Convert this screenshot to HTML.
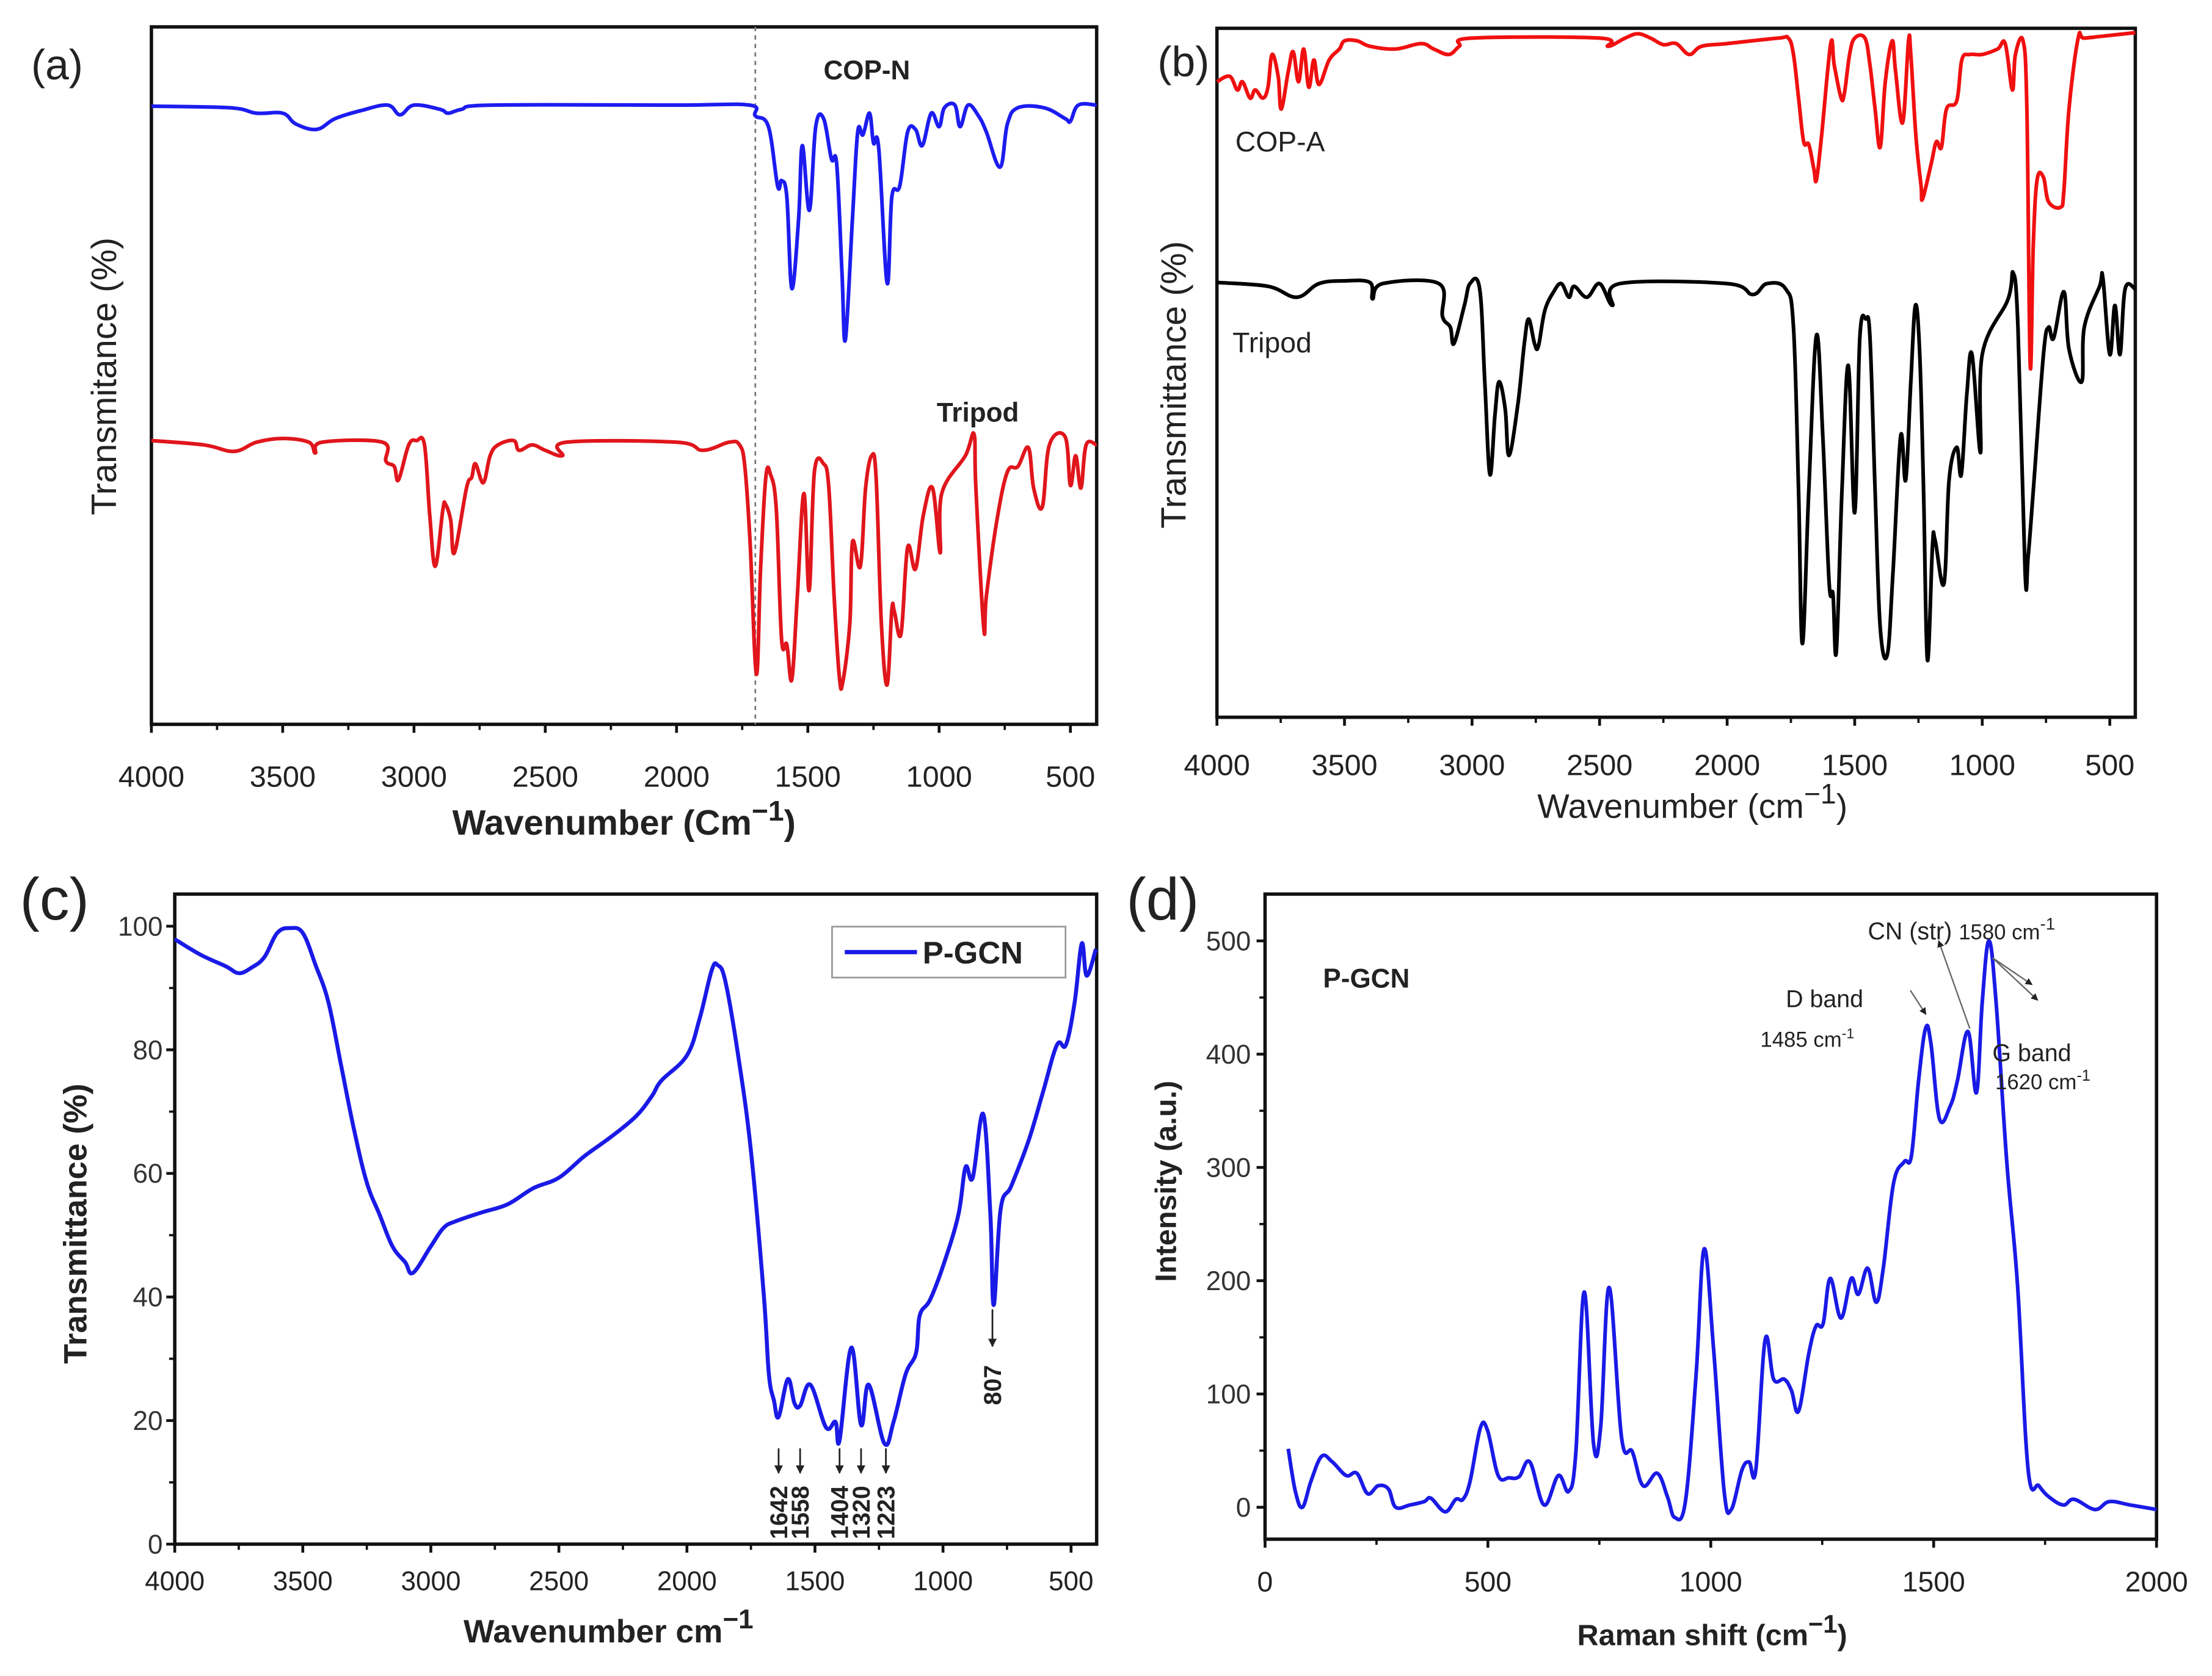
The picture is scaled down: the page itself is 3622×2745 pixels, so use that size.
<!DOCTYPE html>
<html><head><meta charset="utf-8"><style>
html,body{margin:0;padding:0;background:#fff;}
svg{display:block;font-family:"Liberation Sans",Arial,sans-serif;}
</style></head><body>
<svg id="fig" width="3622" height="2745" viewBox="0 0 1563.2 1184.7" preserveAspectRatio="none" xmlns="http://www.w3.org/2000/svg">
<defs><marker id="ah" viewBox="0 0 10 10" refX="9" refY="5" markerWidth="5" markerHeight="5" orient="auto"><path d="M0,0 L10,5 L0,10 z" fill="#222"/></marker></defs>
</svg>
<script>
// ---------- data ----------
const irTicks = [4000,3500,3000,2500,2000,1500,1000,500];
const copN = [[4000,114.6],[3700,114.3],[3600,113.3],[3500,113.3],[3450,111.3],[3370,110.3],[3300,112.3],[3200,113.8],[3100,114.8],[3053,113.0],[3000,114.8],[2900,114.0],[2870,113.3],[2820,114.0],[2700,114.8],[2000,114.8],[1722,114.8],[1700,112.8],[1650,110.8],[1615,99.8],[1600,100.8],[1580,97.8],[1561,80.8],[1535,93.8],[1521,107.3],[1494,95.3],[1470,110.8],[1440,112.3],[1410,104.8],[1390,103.8],[1370,83.8],[1357,71.3],[1330,93.8],[1310,109.8],[1290,109.3],[1265,113.3],[1250,107.8],[1230,106.8],[1198,81.8],[1180,97.8],[1150,99.8],[1120,109.8],[1090,110.3],[1064,107.3],[1030,113.3],[1000,110.8],[980,114.3],[940,114.8],[920,110.8],[890,114.8],[850,112.8],[820,109.8],[768,103.3],[740,111.3],[700,114.3],[600,114.3],[520,112.3],[500,111.8],[470,114.8],[400,114.8]];
const tripodA = [[4000,52.6],[3800,51.8],[3685,50.6],[3600,52.3],[3500,53.0],[3400,52.3],[3376,50.3],[3350,52.3],[3120,52.3],[3107,48.8],[3075,47.8],[3059,45.3],[3020,51.8],[2990,52.6],[2960,51.8],[2940,38.8],[2919,29.3],[2890,39.8],[2880,40.8],[2860,37.8],[2846,31.8],[2800,43.8],[2780,45.8],[2766,48.3],[2736,44.8],[2710,49.8],[2680,51.8],[2620,52.6],[2600,50.8],[2550,51.8],[2500,50.8],[2435,49.8],[2420,52.3],[2000,52.3],[1900,50.8],[1800,52.3],[1760,51.8],[1740,47.8],[1720,33.8],[1696,9.3],[1680,28.8],[1660,45.8],[1642,46.3],[1620,39.8],[1600,15.8],[1580,14.8],[1561,8.3],[1540,23.8],[1515,42.8],[1495,24.8],[1475,46.8],[1440,48.3],[1420,43.8],[1400,23.8],[1380,8.8],[1367,7.8],[1340,18.8],[1330,33.8],[1300,29.3],[1280,43.8],[1257,49.8],[1240,45.8],[1220,18.8],[1198,7.3],[1180,21.3],[1170,20.8],[1145,16.8],[1120,32.8],[1090,28.8],[1060,38.8],[1025,43.8],[996,31.8],[990,42.8],[900,49.8],[867,53.8],[860,43.8],[830,17.8],[820,23.8],[780,37.8],[740,46.8],[700,47.8],[660,51.3],[640,43.8],[607,40.3],[580,51.8],[520,53.3],[500,44.3],[480,49.8],[460,43.8],[440,51.8],[400,51.8]];
const copA = [[4000,116.5],[3950,117.5],[3920,115],[3900,116.5],[3870,113.5],[3850,115],[3820,113.5],[3800,115.5],[3784,121.5],[3760,117.5],[3748,111.5],[3720,118.5],[3701,122],[3680,116.5],[3660,122.5],[3640,115.5],[3620,120.5],[3600,116],[3560,120.5],[3520,122.5],[3500,124],[3450,124],[3400,123],[3300,122.5],[3200,123.5],[3150,122.5],[3091,121.5],[3050,123],[3000,124.5],[2500,124.5],[2467,123],[2400,124.5],[2350,125.3],[2300,124.5],[2250,123.3],[2200,123.5],[2149,121.5],[2100,123],[2000,123.5],[1800,124.5],[1760,124.5],[1740,121.5],[1720,113.5],[1700,105.5],[1680,105],[1660,100.5],[1650,98.5],[1630,106.5],[1594,123.5],[1580,119.5],[1553,113.5],[1540,114.5],[1520,121.5],[1500,124.5],[1460,124.5],[1440,119.5],[1420,111.5],[1400,104.5],[1380,116.5],[1353,124],[1340,118.5],[1312,109],[1289,124],[1280,121.5],[1260,106.5],[1240,97.5],[1234,95],[1200,101.5],[1180,105.5],[1160,104.5],[1140,111.5],[1100,113],[1080,120.5],[1050,121.5],[1000,121.5],[940,122.5],[910,123.5],[882,115],[870,121.5],[840,124],[825,111.5],[812,64.5],[800,86.5],[785,98.5],[760,99],[740,94.5],[693,93.5],[680,96.5],[660,111.5],[624,124.5],[600,124.5],[500,125],[400,125.5]];
const tripodB = [[4000,79.7],[3800,79],[3687,77],[3600,79.5],[3500,80],[3400,79.7],[3390,76.7],[3350,79.5],[3130,79.5],[3116,73.5],[3085,71.5],[3071,68.5],[3030,75.5],[3008,79.5],[2970,78.5],[2950,61.5],[2930,44.5],[2910,55.5],[2894,61.5],[2870,56.5],[2855,48],[2820,57.5],[2795,68.5],[2778,73],[2755,68.5],[2740,68],[2715,74.5],[2680,78],[2650,79.5],[2620,77],[2600,79],[2550,77],[2500,79.5],[2450,75.5],[2420,79.5],[2000,79.5],[1900,77.5],[1844,79.5],[1770,78.5],[1740,71.5],[1720,41.5],[1705,13.5],[1680,41.5],[1650,70],[1625,51.5],[1600,24.5],[1585,22.5],[1572,12],[1550,41.5],[1525,64.5],[1500,37.5],[1480,69.5],[1456,73],[1440,69.5],[1420,41.5],[1400,16.5],[1372,11.5],[1350,26.5],[1320,51.5],[1300,43.5],[1280,61.5],[1262,75.5],[1245,66.5],[1230,41.5],[1215,10.5],[1195,31.5],[1185,32.5],[1150,24.5],[1130,43.5],[1100,49.5],[1082,44.5],[1060,59.5],[1040,66.5],[1007,48.5],[1000,66.5],[900,76.5],[879,81.5],[860,71.5],[832,26.5],[820,29.5],[800,41.5],[760,66.5],[740,71.5],[720,69.5],[680,78],[660,67.5],[610,61.5],[600,71.5],[540,79],[527,80.5],[500,66.5],[480,75.5],[460,66.5],[440,78.5],[400,78.5]];
const pgcnTicksY = [0,20,40,60,80,100];
const pgcn = [[4000,97.9],[3900,95.4],[3800,93.5],[3750,92.4],[3700,93.3],[3650,95.0],[3600,98.9],[3550,99.7],[3500,98.9],[3450,93.7],[3400,87.7],[3350,77.4],[3300,67.1],[3250,58.5],[3200,53.3],[3150,48.2],[3100,45.6],[3070,43.9],[3000,48.2],[2950,51.2],[2900,52.3],[2800,53.7],[2700,55.0],[2600,57.6],[2500,59.3],[2400,62.8],[2300,65.8],[2200,69.2],[2137,72.5],[2100,75],[2000,79.1],[1950,85.1],[1903,92.9],[1880,93.7],[1850,91.1],[1800,79.1],[1750,63.6],[1700,40.4],[1680,27.5],[1660,23.2],[1642,20.6],[1606,26.7],[1580,22.8],[1558,22.4],[1518,25.8],[1457,18.9],[1420,19.8],[1404,16.8],[1358,31.8],[1320,19.3],[1290,25.8],[1229,16.3],[1193,19.8],[1146,27.5],[1105,31],[1091,37],[1050,39.6],[995,45.6],[940,53.3],[912,61.0],[884,59.3],[843,69.6],[815,53.3],[802,38.7],[775,54.2],[733,58.0],[665,65.4],[610,73.1],[555,80.8],[520,80.8],[486,87.7],[458,97.2],[439,92],[403,96.3]];
const pgcnPeaks = [1642,1558,1404,1320,1223];
const ramanTicksX = [0,500,1000,1500,2000];
const ramanTicksY = [0,100,200,300,400,500];
const raman = [[52,51.6],[68,14],[84,0],[103,23],[127,45],[151,40],[182,28],[206,30],[230,12],[254,19],[277,16],[293,0],[325,2],[357,5],[372,8],[404,-4],[428,7],[444,7],[460,23],[483,70],[499,68],[523,28],[547,26],[570,27],[594,40],[626,2],[658,28],[681,14],[697,47],[716,190],[737,56],[753,71],[772,194],[800,61],[824,49],[848,19],[880,30],[903,9],[919,-9],[943,5],[967,117],[985,228],[1006,141],[1030,14],[1046,-2],[1070,33],[1086,40],[1101,33],[1122,148],[1141,113],[1165,113],[1181,103],[1197,85],[1220,136],[1236,160],[1252,162],[1268,202],[1292,167],[1315,202],[1331,188],[1352,211],[1371,181],[1387,211],[1410,286],[1434,305],[1450,310],[1466,376],[1482,423],[1494,409],[1513,343],[1537,354],[1553,376],[1577,420],[1596,366],[1609,446],[1624,500],[1640,446],[1664,305],[1688,197],[1712,33],[1736,19],[1759,9],[1791,2],[1815,7],[1862,-2],[1894,5],[1941,2],[2000,-2]];

// ---------- helpers ----------
const NS = "http://www.w3.org/2000/svg";
const svg = document.getElementById('fig');
function mk(tag, attrs, parent, txt){
  const e = document.createElementNS(NS, tag);
  for (const k in attrs) e.setAttribute(k, attrs[k]);
  if (txt !== undefined) e.textContent = txt;
  (parent || svg).appendChild(e);
  return e;
}
function lin(d0,d1,r0,r1){ return v => r0 + (v-d0)*(r1-r0)/(d1-d0); }
function linePath(data, sx, sy){
  const P = data.map(p=>[sx(p[0]), sy(p[1])]);
  let d = 'M'+P[0][0].toFixed(2)+','+P[0][1].toFixed(2);
  const t = 0.18;
  for (let i=0;i<P.length-1;i++){
    const p0=P[Math.max(0,i-1)], p1=P[i], p2=P[i+1], p3=P[Math.min(P.length-1,i+2)];
    const c1x=p1[0]+(p2[0]-p0[0])*t, c1y=p1[1]+(p2[1]-p0[1])*t;
    const c2x=p2[0]-(p3[0]-p1[0])*t, c2y=p2[1]-(p3[1]-p1[1])*t;
    d += 'C'+c1x.toFixed(2)+','+c1y.toFixed(2)+' '+c2x.toFixed(2)+','+c2y.toFixed(2)+' '+p2[0].toFixed(2)+','+p2[1].toFixed(2);
  }
  return d;
}
function frame(g, x0,y0,x1,y1){
  const r = mk('rect',{x:x0,y:y0,width:x1-x0,height:y1-y0,fill:'none',stroke:'#111','stroke-width':2.4},g);
  
  
}
function xTicks(g, ticks, sx, yb, fs, ty, minor, weight){
  ticks.forEach(t=>{
    const l = mk('line',{x1:sx(t),x2:sx(t),y1:yb,y2:yb+6,stroke:'#111','stroke-width':2},g);
    
    
    const tx = mk('text',{x:sx(t),y:ty,'font-size':fs,'text-anchor':'middle',fill:'#222','font-weight':weight||'normal'},g,String(t));
    
    
  });
  (minor||[]).forEach(t=>{
    const l = mk('line',{x1:sx(t),x2:sx(t),y1:yb,y2:yb+4,stroke:'#111','stroke-width':1.6},g);
    
    
  });
}
function yTicks(g, ticks, sy, xl, fs, tx, minor){
  ticks.forEach(t=>{
    const l = mk('line',{x1:xl-6,x2:xl,y1:sy(t),y2:sy(t),stroke:'#111','stroke-width':2},g);
    
    
    const e = mk('text',{x:tx,y:sy(t)+fs*0.35,'font-size':fs,'text-anchor':'end',fill:'#333'},g,String(t));
    
    
  });
  (minor||[]).forEach(t=>{
    const l = mk('line',{x1:xl-4,x2:xl,y1:sy(t),y2:sy(t),stroke:'#111','stroke-width':1.6},g);
    
    
  });
}
function text(g,name,x,y,s,attrs){
  const a = Object.assign({x:x,y:y,fill:'#222'},attrs);
  const e = mk('text',a,g,s);
  
  
  return e;
}
function series(g,name,data,sx,sy,color,w){
  const p = mk('path',{d:linePath(data,sx,sy),fill:'none',stroke:color,'stroke-width':w||2.6,'stroke-linejoin':'round'},g);
  
  
}
const irMinor = [3750,3250,2750,2250,1750,1250,750];

// ---------- panel a ----------
(function(){
  const g = mk('g',{});
  
  
  const x0=107,x1=775,y0=19,y1=512;
  const sx = lin(4000,400,x0,x1), sy = lin(0,129.3,y1,y0);
  frame(g,x0,y0,x1,y1);
  const dl = mk('line',{x1:sx(1700),x2:sx(1700),y1:y0,y2:y1,stroke:'#777','stroke-width':1.2,'stroke-dasharray':'3,3'},g);
  
  
  series(g,'cop-n-line',copN,sx,sy,'#1c1cf0');
  series(g,'tripod-line-a',tripodA,sx,sy,'#e0161c');
  xTicks(g,irTicks,sx,y1,21,556,irMinor);
  text(g,'panel-label-a',22,56,'(a)',{'font-size':30});
  text(g,'cop-n-label',582,56,'COP-N',{'font-size':19,'font-weight':'bold'});
  text(g,'tripod-label-a',662,298,'Tripod',{'font-size':19,'font-weight':'bold'});
  const xt = text(g,'x-axis-title-a',441,590,'',{'font-size':25,'font-weight':'bold','text-anchor':'middle'});
  xt.innerHTML = 'Wavenumber (Cm<tspan dy="-10" font-size="20">−1</tspan><tspan dy="10">)</tspan>';
  text(g,'y-axis-title-a',0,0,'Transmitance (%)',{'font-size':25,'text-anchor':'middle',transform:'translate(82,266) rotate(-90)'});
})();

// ---------- panel b ----------
(function(){
  const g = mk('g',{});
  
  
  const x0=860,x1=1509,y0=20,y1=507;
  const sx = lin(4000,400,x0,x1), sy = lin(0,126.3,y1,y0);
  frame(g,x0,y0,x1,y1);
  series(g,'cop-a-line',copA,sx,sy,'#f01010');
  series(g,'tripod-line-b',tripodB,sx,sy,'#000');
  xTicks(g,irTicks,sx,y1,21,548,irMinor);
  text(g,'panel-label-b',818,54,'(b)',{'font-size':30});
  text(g,'cop-a-label',873,107,'COP-A',{'font-size':20});
  text(g,'tripod-label-b',871,249,'Tripod',{'font-size':20});
  const xt = text(g,'x-axis-title-b',1196,578,'',{'font-size':24,'text-anchor':'middle'});
  xt.innerHTML = 'Wavenumber (cm<tspan dy="-10" font-size="20">−1</tspan><tspan dy="10">)</tspan>';
  text(g,'y-axis-title-b',0,0,'Transmittance (%)',{'font-size':25,'text-anchor':'middle',transform:'translate(838,272) rotate(-90)'});
})();

// ---------- panel c ----------
(function(){
  const g = mk('g',{});
  
  
  const x0=123.5,x1=775,y0=632,y1=1091.5;
  const sx = lin(4000,400,x0,x1), sy = lin(0,105.2,y1,y0);
  frame(g,x0,y0,x1,y1);
  series(g,'p-gcn-ir-line',pgcn,sx,sy,'#1a1ae6',2.8);
  xTicks(g,irTicks,sx,y1,19,1124,irMinor);
  yTicks(g,pgcnTicksY,sy,x0,19,115,[10,30,50,70,90]);
  pgcnPeaks.forEach(wn=>{
    const a = mk('line',{x1:sx(wn),x2:sx(wn),y1:sy(15.5),y2:sy(11.5),stroke:'#222','stroke-width':1.2,'marker-end':'url(#ah)'},g);
    
    
    const t = mk('text',{x:0,y:0,'font-size':17,'font-weight':'bold','text-anchor':'start',fill:'#222',transform:'translate('+(sx(wn)+6)+','+sy(0.8)+') rotate(-90)'},g,String(wn));
    
    
  });
  const a8 = mk('line',{x1:sx(807),x2:sx(807),y1:sy(38),y2:sy(32),stroke:'#222','stroke-width':1.2,'marker-end':'url(#ah)'},g);
  
  
  const t8 = mk('text',{x:0,y:0,'font-size':17,'font-weight':'bold',fill:'#222',transform:'translate('+(sx(807)+6)+','+sy(22.5)+') rotate(-90)'},g,'807');
  
  
  const lg = mk('g',{},g);
  
  
  mk('rect',{x:588,y:655,width:165,height:36,fill:'#fff',stroke:'#999','stroke-width':1.2},lg);
  const ll = mk('line',{x1:597,x2:648,y1:673,y2:673,stroke:'#1a1ae6','stroke-width':3},lg);
  
  
  text(lg,'legend-label',652,681,'P-GCN',{'font-size':22,'font-weight':'bold'});
  text(g,'panel-label-c',14,650,'(c)',{'font-size':42,'font-weight':'200'});
  const xt = text(g,'x-axis-title-c',430,1161,'',{'font-size':23,'font-weight':'bold','text-anchor':'middle'});
  xt.innerHTML = 'Wavenumber cm<tspan dy="-10" font-size="19">−1</tspan>';
  text(g,'y-axis-title-c',0,0,'Transmittance (%)',{'font-size':23,'font-weight':'bold','text-anchor':'middle',transform:'translate(61,865) rotate(-90)'});
})();

// ---------- panel d ----------
(function(){
  const g = mk('g',{});
  
  
  const x0=894,x1=1524,y0=632,y1=1088;
  const sx = lin(0,2000,x0,x1), sy = lin(-28.2,541.3,y1,y0);
  frame(g,x0,y0,x1,y1);
  series(g,'raman-line',raman,sx,sy,'#1a1ae6',2.6);
  xTicks(g,ramanTicksX,sx,y1,20,1125,[250,750,1250,1750]);
  yTicks(g,ramanTicksY,sy,x0,19,884,[50,150,250,350,450]);
  text(g,'panel-label-d',796,650,'(d)',{'font-size':42,'font-weight':'200'});
  text(g,'p-gcn-label-d',935,698,'P-GCN',{'font-size':19,'font-weight':'bold'});
  text(g,'d-band-label',1262,712,'D band',{'font-size':17});
  const d2 = text(g,'d-band-wavenumber',1244,740,'',{'font-size':15});
  d2.innerHTML = '1485 cm<tspan dy="-6" font-size="10">-1</tspan>';
  const cn = text(g,'cn-str-label',1320,664,'',{'font-size':17});
  cn.innerHTML = 'CN (str) <tspan font-size="15">1580 cm</tspan><tspan dy="-7" font-size="12">-1</tspan>';
  text(g,'g-band-label',1408,750,'G band',{'font-size':17});
  const g2 = text(g,'g-band-wavenumber',1410,770,'',{'font-size':15});
  g2.innerHTML = '1620 cm<tspan dy="-6" font-size="11">-1</tspan>';
  const arrows = [[1350,700,1361,717],[1392,727,1370,665],[1408,677,1440,707],[1408,677,1436,696]];
  arrows.forEach(a=>{
    const l = mk('line',{x1:a[0],y1:a[1],x2:a[2],y2:a[3],stroke:'#666','stroke-width':1,'marker-end':'url(#ah)'},g);
    
    
  });
  const xt = text(g,'x-axis-title-d',1210,1163,'',{'font-size':21,'font-weight':'bold','text-anchor':'middle'});
  xt.innerHTML = 'Raman shift (cm<tspan dy="-9" font-size="18">−1</tspan><tspan dy="9">)</tspan>';
  text(g,'y-axis-title-d',0,0,'Intensity (a.u.)',{'font-size':21,'font-weight':'bold','text-anchor':'middle',transform:'translate(831,835) rotate(-90)'});
})();
</script>
</body></html>
